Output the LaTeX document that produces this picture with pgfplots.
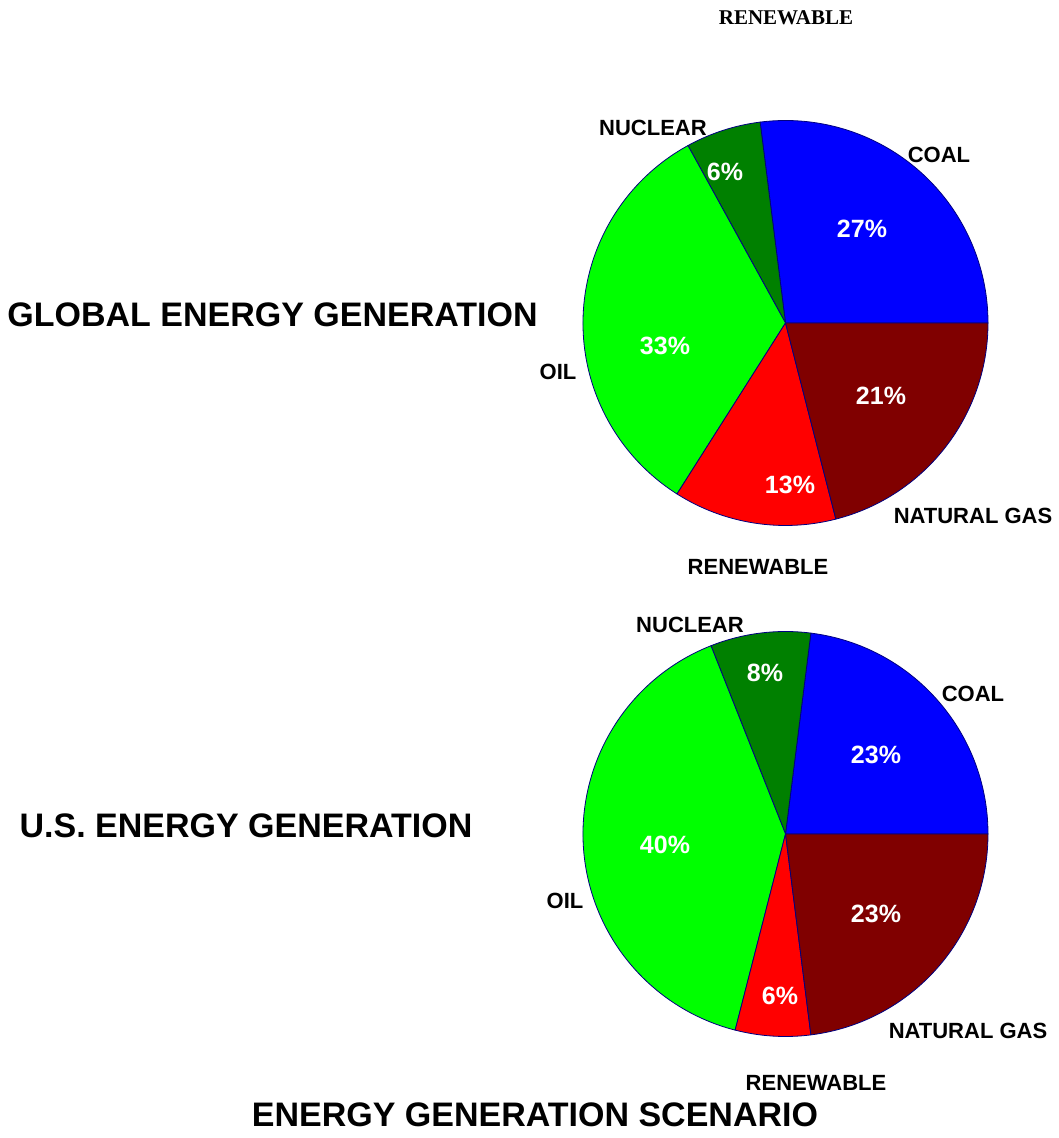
\documentclass[border=0pt]{standalone}
\usepackage{pgfplots}
\pgfplotsset{compat=1.18}
\usepackage{pgfplotstable}
\usepackage{fontspec}
\setmainfont{Liberation Sans}
\newfontfamily\headserif{Liberation Serif}

\definecolor{coal}{RGB}{0,0,255}
\definecolor{nuclear}{RGB}{0,128,0}
\definecolor{oil}{RGB}{0,255,0}
\definecolor{renew}{RGB}{255,0,0}
\definecolor{gas}{RGB}{128,0,0}
\definecolor{rim}{RGB}{0,0,128}

% share of each source (percent), its colour, and where its name (lx,ly)
% and its percentage (px,py) are set, measured from the top-left corner
\pgfplotstableread[col sep=comma]{
source,pct,colour,lx,ly,px,py
COAL,27,coal,939,155,862,229
NUCLEAR,6,nuclear,653,128,725,172
OIL,33,oil,558,372,665,346
RENEWABLE,13,renew,758,567,790,485
NATURAL GAS,21,gas,973,516,881,396
}\globalmix

\pgfplotstableread[col sep=comma]{
source,pct,colour,lx,ly,px,py
COAL,23,coal,973,694,876,755
NUCLEAR,8,nuclear,690,625,765,673
OIL,40,oil,565,901,665,845
RENEWABLE,6,renew,816,1083,780,996
NATURAL GAS,23,gas,968,1031,876,914
}\usmix

\tikzset{
  slicename/.style={font=\fontsize{22}{24}\selectfont\bfseries, text=black, inner sep=0pt},
  slicepct/.style={font=\fontsize{25}{27}\selectfont\bfseries, text=white, inner sep=0pt},
  bigtitle/.style={font=\fontsize{34}{36}\selectfont\bfseries, text=black, inner sep=0pt},
}

% #1 table, #2 centre x, #3 centre y (from top), #4 radius
\newcommand\drawpie[4]{%
  \pgfplotstablegetrowsof{#1}%
  \pgfmathtruncatemacro\lastrow{\pgfplotsretval-1}%
  \pgfmathsetmacro\cy{1138-#3}%
  \def\startang{0}%
  \pgfplotsforeachungrouped \i in {0,...,\lastrow}{%
    \pgfplotstablegetelem{\i}{pct}\of{#1}\let\pct\pgfplotsretval
    \pgfplotstablegetelem{\i}{colour}\of{#1}\let\col\pgfplotsretval
    \pgfmathsetmacro\endang{\startang+3.6*\pct}%
    \pgfmathsetmacro\ex{#2+#4*cos(\startang)}%
    \pgfmathsetmacro\ey{\cy+#4*sin(\startang)}%
    \edef\temp{\noexpand\filldraw[fill=\col, draw=rim, line width=0.8pt, line join=round]
      (axis cs:#2,\cy) -- (axis cs:\ex,\ey)
      arc[start angle=\startang, end angle=\endang, radius=#4pt] -- cycle;}%
    \temp
    \let\startang\endang
  }%
  \pgfplotsforeachungrouped \i in {0,...,\lastrow}{%
    \pgfplotstablegetelem{\i}{pct}\of{#1}\let\pct\pgfplotsretval
    \pgfplotstablegetelem{\i}{source}\of{#1}\let\src\pgfplotsretval
    \pgfplotstablegetelem{\i}{lx}\of{#1}\let\lx\pgfplotsretval
    \pgfplotstablegetelem{\i}{ly}\of{#1}\pgfmathsetmacro\ly{1138-\pgfplotsretval}%
    \pgfplotstablegetelem{\i}{px}\of{#1}\let\px\pgfplotsretval
    \pgfplotstablegetelem{\i}{py}\of{#1}\pgfmathsetmacro\py{1138-\pgfplotsretval}%
    \edef\temp{%
      \noexpand\node[slicename] at (axis cs:\lx,\ly) {\src};
      \noexpand\node[slicepct] at (axis cs:\px,\py) {\pct\noexpand\%};}%
    \temp
  }%
}

\begin{document}
\begin{tikzpicture}
\begin{axis}[
  width=1058pt, height=1138pt, scale only axis,
  xmin=0, xmax=1058, ymin=0, ymax=1138,
  hide axis, clip=false,
]
\path (axis cs:0,0) rectangle (axis cs:1058,1138);

\drawpie{\globalmix}{785.5}{323}{202.5}
\drawpie{\usmix}{785.5}{834}{202.5}

\node[inner sep=0pt, font=\headserif\fontsize{21}{23}\selectfont\bfseries]
  at (axis cs:786,1120) {RENEWABLE};

\node[bigtitle] at (axis cs:272.5,823) {GLOBAL ENERGY GENERATION};
\node[bigtitle] at (axis cs:246,312) {U.S. ENERGY GENERATION};
\node[bigtitle] at (axis cs:535,23) {ENERGY GENERATION SCENARIO};
\end{axis}
\end{tikzpicture}
\end{document}
